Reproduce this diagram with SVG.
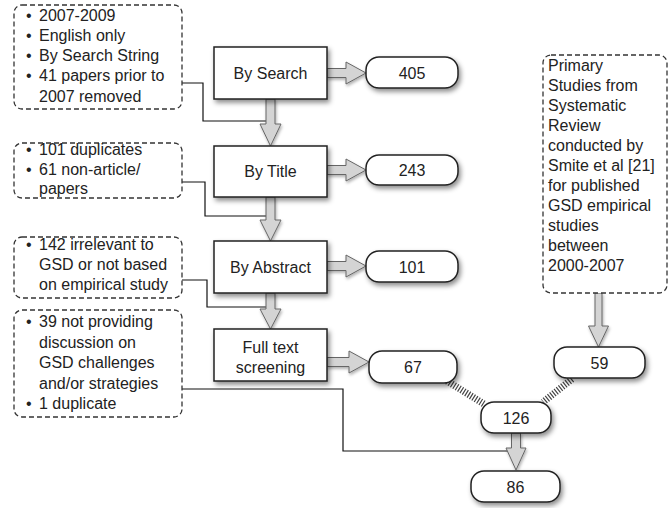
<svg xmlns="http://www.w3.org/2000/svg" width="669" height="508" viewBox="0 0 669 508">
<defs>
<filter id="sh" x="-20%" y="-20%" width="150%" height="160%">
<feDropShadow dx="2" dy="3" stdDeviation="2.5" flood-color="#000" flood-opacity="0.45"/>
</filter>
<filter id="sh2" x="-20%" y="-20%" width="150%" height="160%">
<feDropShadow dx="1" dy="2" stdDeviation="1.5" flood-color="#000" flood-opacity="0.3"/>
</filter>
</defs>
<style>
text{font-family:"Liberation Sans",Arial,sans-serif;font-size:16px;fill:#222}
.c{text-anchor:middle}
.box{fill:#fff;stroke:#222;stroke-width:1.5;filter:url(#sh)}
.pill{fill:#fff;stroke:#222;stroke-width:1.5;filter:url(#sh)}
.note{fill:#fff;stroke:#333;stroke-width:1.3;stroke-dasharray:5 3}
.conn{fill:none;stroke:#111;stroke-width:1.2}
.arr{fill:#d4d4d4;stroke:#666;stroke-width:1;filter:url(#sh2)}
.hatch{fill:none;stroke:#444;stroke-width:7;stroke-dasharray:1.2 1.6}
</style>
<rect width="669" height="508" fill="#fff"/>

<g id="connectors">
<polyline class="conn" points="182,83 203,83 203,121 268,121"/>
<polyline class="conn" points="182,182 205,182 205,216 268,216"/>
<polyline class="conn" points="182,280 207,280 207,307 268,307"/>
<polyline class="conn" points="182,389 343,389 343,451 513,451"/>
<polygon class="arr" points="266,99 275,99 275,124 281,124 270.5,146 260,124 266,124"/>
<polygon class="arr" points="266,197 275,197 275,220 281,220 270.5,241 260,220 266,220"/>
<polygon class="arr" points="266,293 275,293 275,309 281,309 270.5,329 260,309 266,309"/>
<polygon class="arr" points="327,68.5 346,68.5 346,62 366,73 346,84 346,77.5 327,77.5"/>
<polygon class="arr" points="327,165.5 346,165.5 346,159 366,170 346,181 346,174.5 327,174.5"/>
<polygon class="arr" points="327,261.5 346,261.5 346,255 366,266 346,277 346,270.5 327,270.5"/>
<polygon class="arr" points="327,357.5 349,357.5 349,351 369,362 349,373 349,366.5 327,366.5"/>
<polygon class="arr" points="595,293 602,293 602,326 608.5,326 598.5,347 588.5,326 595,326"/>
<polygon class="arr" points="511.5,433 520.5,433 520.5,448 526,448 516,470 506,448 511.5,448"/>
<line class="hatch" x1="447" y1="381" x2="484" y2="404"/>
<line class="hatch" x1="572" y1="379" x2="543" y2="402"/>
</g>

<g id="note-search">
<rect class="note" x="14" y="5" width="168" height="104" rx="8"/>
<text x="26" y="21">•</text><text x="39" y="21">2007-2009</text>
<text x="26" y="41">•</text><text x="39" y="41">English only</text>
<text x="26" y="61">•</text><text x="39" y="61">By Search String</text>
<text x="26" y="81">•</text><text x="39" y="81">41 papers prior to</text>
<text x="39" y="102">2007 removed</text>
</g>
<g id="note-title">
<rect class="note" x="14" y="143" width="168" height="55" rx="8"/>
<text x="26" y="155">•</text><text x="39" y="155">101 duplicates</text>
<text x="26" y="175">•</text><text x="39" y="175">61 non-article/</text>
<text x="39" y="194">papers</text>
</g>
<g id="note-abstract">
<rect class="note" x="14" y="237" width="168" height="61" rx="8"/>
<text x="26" y="250">•</text><text x="39" y="250">142 irrelevant to</text>
<text x="39" y="270">GSD or not based</text>
<text x="39" y="290">on empirical study</text>
</g>
<g id="note-fulltext">
<rect class="note" x="14" y="310" width="168" height="107" rx="8"/>
<text x="26" y="327">•</text><text x="39" y="327">39 not providing</text>
<text x="39" y="347.6">discussion on</text>
<text x="39" y="368.2">GSD challenges</text>
<text x="39" y="388.8">and/or strategies</text>
<text x="26" y="409.4">•</text><text x="39" y="409.4">1 duplicate</text>
</g>
<g id="note-primary">
<rect class="note" x="543" y="55" width="124" height="238" rx="8"/>
<text x="548" y="71">Primary</text>
<text x="548" y="91">Studies from</text>
<text x="548" y="111">Systematic</text>
<text x="548" y="131">Review</text>
<text x="548" y="151">conducted by</text>
<text x="548" y="171">Smite et al [21]</text>
<text x="548" y="191">for published</text>
<text x="548" y="211">GSD empirical</text>
<text x="548" y="231">studies</text>
<text x="548" y="251">between</text>
<text x="548" y="271">2000-2007</text>
</g>

<g id="by-search"><rect class="box" x="214" y="47" width="113" height="52"/><text class="c" x="270.5" y="79">By Search</text></g>
<g id="by-title"><rect class="box" x="214" y="146" width="113" height="51"/><text class="c" x="270.5" y="177">By Title</text></g>
<g id="by-abstract"><rect class="box" x="214" y="241" width="113" height="52"/><text class="c" x="270.5" y="273">By Abstract</text></g>
<g id="full-text"><rect class="box" x="214" y="329" width="113" height="52"/><text class="c" x="270.5" y="353">Full text</text><text class="c" x="270.5" y="373">screening</text></g>

<g id="n405"><rect class="pill" x="366" y="57" width="92" height="31" rx="13"/><text class="c" x="412" y="78.5">405</text></g>
<g id="n243"><rect class="pill" x="366" y="155" width="92" height="30" rx="13"/><text class="c" x="412" y="176">243</text></g>
<g id="n101"><rect class="pill" x="366" y="251" width="92" height="31" rx="13"/><text class="c" x="412" y="272.5">101</text></g>
<g id="n67"><rect class="pill" x="369" y="351" width="88" height="32" rx="13"/><text class="c" x="413" y="372.5">67</text></g>
<g id="n59"><rect class="pill" x="554" y="347" width="91" height="31" rx="13"/><text class="c" x="599.5" y="368.5">59</text></g>
<g id="n126"><rect class="pill" x="481" y="402" width="70" height="31" rx="13"/><text class="c" x="516" y="423.5">126</text></g>
<g id="n86"><rect class="pill" x="471" y="471" width="89" height="31" rx="13"/><text class="c" x="515.5" y="492.5">86</text></g>
</svg>
